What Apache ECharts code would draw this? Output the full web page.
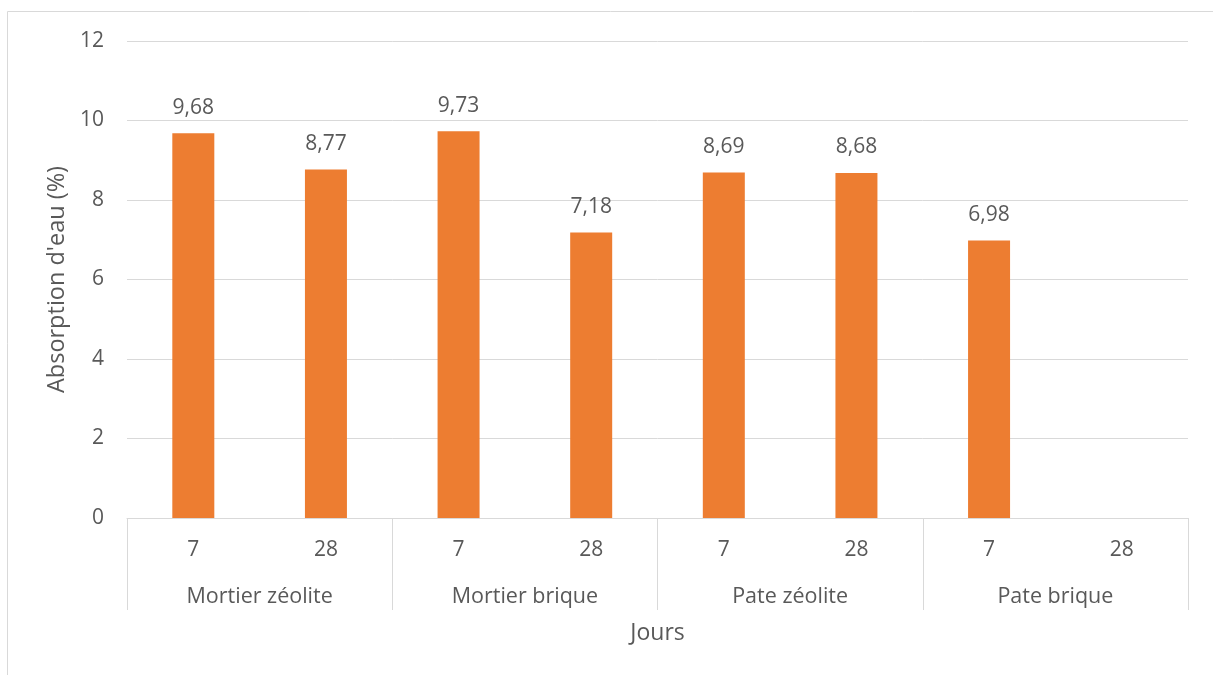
<!DOCTYPE html>
<html>
<head>
<meta charset="utf-8">
<script src="https://cdn.jsdelivr.net/npm/echarts@6/dist/echarts.min.js"></script>
<style>
  html, body { margin: 0; padding: 0; background: #fff; }
  #chart { width: 1213px; height: 675px; }
</style>
</head>
<body>
<div id="chart"></div>
<script>
// data
const jours = ['7', '28', '7', '28', '7', '28', '7', '28']
const groupes = ['Mortier zéolite', 'Mortier brique', 'Pate zéolite', 'Pate brique']
const absorption = [9.68, 8.77, 9.73, 7.18, 8.69, 8.68, 6.98, null]

const textColor = '#595959'
const lineColor = '#d9d9d9'
const font = '"Open Sans", Lato, sans-serif'

const chart = echarts.init(document.getElementById('chart'))

const option = {
  animation: false,
  textStyle: { fontFamily: font },
  graphic: [
    {
      type: 'rect',
      shape: { x: 7.5, y: 11.5, width: 1230, height: 700 },
      style: { fill: 'none', stroke: lineColor, lineWidth: 1 },
      silent: true
    }
  ],
  grid: { left: 127, right: 25, top: 41, bottom: 157 },
  xAxis: [
    {
      type: 'category',
      data: jours,
      position: 'bottom',
      axisLine: { lineStyle: { color: lineColor, width: 1 } },
      axisTick: { show: false },
      axisLabel: { color: textColor, fontSize: 21, margin: 22, interval: 0, fontFamily: font }
    },
    {
      type: 'category',
      data: groupes,
      position: 'bottom',
      axisLine: { show: false },
      axisTick: { show: true, length: 92, interval: 0, alignWithLabel: false, lineStyle: { color: lineColor } },
      axisLabel: { color: textColor, fontSize: 21.5, margin: 68, interval: 0, fontFamily: font },
      name: 'Jours',
      nameLocation: 'middle',
      nameGap: 104,
      nameTextStyle: { color: textColor, fontSize: 23, fontFamily: font }
    }
  ],
  yAxis: {
    type: 'value',
    min: 0,
    max: 12,
    interval: 2,
    name: "Absorption d'eau (%)",
    nameLocation: 'middle',
    nameRotate: 90,
    nameGap: 52,
    nameTextStyle: { color: textColor, fontSize: 23.5, fontFamily: font },
    axisLine: { show: false },
    axisTick: { show: false },
    axisLabel: { color: textColor, fontSize: 21, margin: 23, fontFamily: font },
    splitLine: { lineStyle: { color: lineColor, width: 1 } }
  },
  series: [
    {
      type: 'bar',
      xAxisIndex: 0,
      data: absorption,
      barWidth: 42,
      itemStyle: { color: '#ed7d31' },
      label: {
        show: true,
        position: 'top',
        distance: 15,
        color: textColor,
        fontSize: 21,
        fontFamily: font,
        formatter: p => String(p.value).replace('.', ',')
      }
    }
  ]
}

chart.setOption(option)
window.addEventListener('resize', chart.resize)
</script>
</body>
</html>
